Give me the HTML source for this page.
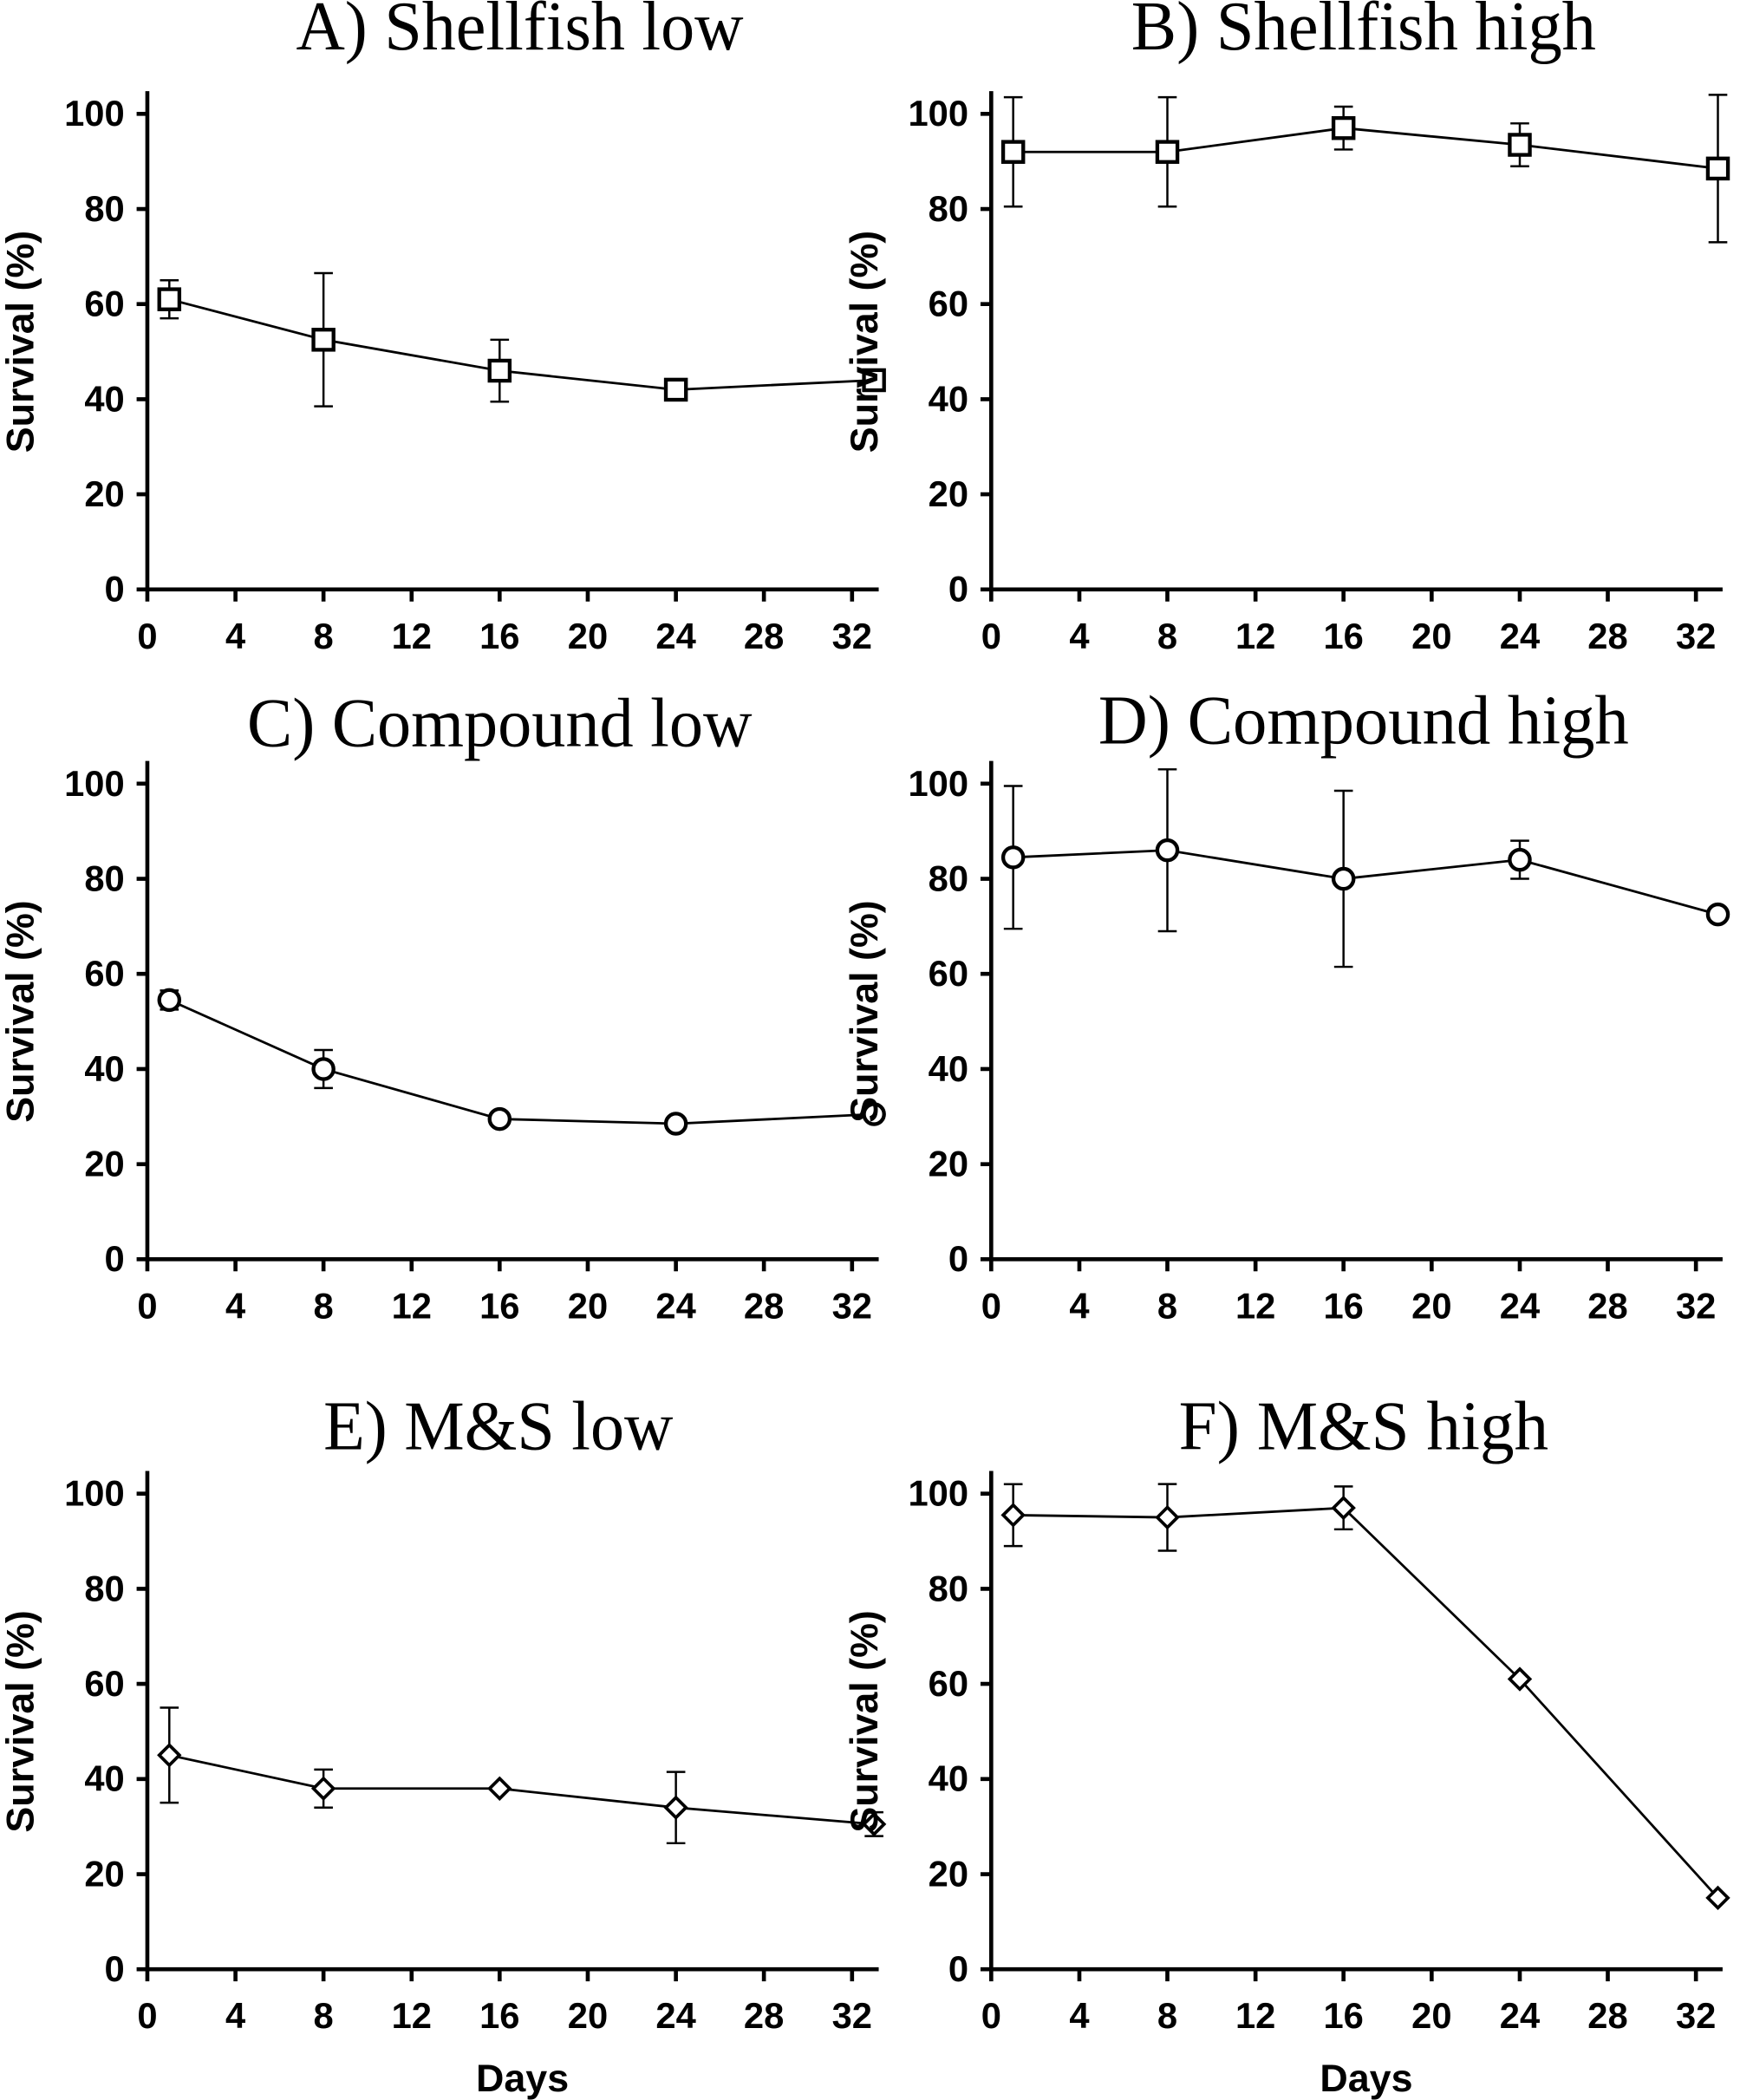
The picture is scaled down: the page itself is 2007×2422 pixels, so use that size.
<!DOCTYPE html>
<html><head><meta charset="utf-8"><style>
html,body{margin:0;padding:0;background:#fff}
svg{display:block}
.t{font-family:"Liberation Serif",serif;font-size:52px;fill:#000}
.k{font-family:"Liberation Sans Narrow","Liberation Sans",sans-serif;font-weight:bold;font-size:27px;fill:#000}
.yl{font-family:"Liberation Sans",sans-serif;font-weight:bold;font-size:29px;fill:#000}
.ax{stroke:#000;stroke-width:3;fill:none}
.ln{stroke:#000;stroke-width:1.8;fill:none}
.eb{stroke:#000;stroke-width:1.6;fill:none}
.mk{stroke:#000;stroke-width:2.8;fill:#fff}
</style></head><body>
<svg width="2007" height="2422" viewBox="0 0 1299 1567.6" xmlns="http://www.w3.org/2000/svg">
<defs>
<g id="axes">
<path class="ax" d="M0,0V-372M0,0H546"/>
<path class="ax" d="M0,0h-8M0,-71h-8M0,-142h-8M0,-213h-8M0,-284h-8M0,-355h-8"/>
<path class="ax" d="M0,0v9M65.8,0v9M131.5,0v9M197.3,0v9M263,0v9M328.8,0v9M394.6,0v9M460.3,0v9M526.1,0v9"/>
<g class="k" text-anchor="end">
<text x="-17" y="9">0</text><text x="-17" y="-62">20</text><text x="-17" y="-133">40</text><text x="-17" y="-204">60</text><text x="-17" y="-275">80</text><text x="-17" y="-346">100</text>
</g>
<g class="k" text-anchor="middle">
<text x="0" y="44">0</text><text x="65.8" y="44">4</text><text x="131.5" y="44">8</text><text x="197.3" y="44">12</text><text x="263" y="44">16</text><text x="328.8" y="44">20</text><text x="394.6" y="44">24</text><text x="460.3" y="44">28</text><text x="526.1" y="44">32</text>
</g>
<text class="yl" transform="translate(-85,-185) rotate(-90)" text-anchor="middle">Survival (%)</text>
</g>
<rect id="sq" class="mk" x="-7.5" y="-7.5" width="15" height="15"/>
<circle id="ci" class="mk" r="7.5"/>
<path id="di" class="mk" d="M0,-7.5L7.5,0L0,7.5L-7.5,0Z" style="stroke-width:2.4"/>
</defs>

<text class="t" x="388" y="37" text-anchor="middle" textLength="334" lengthAdjust="spacingAndGlyphs">A) Shellfish low</text>
<text class="t" x="1018" y="37" text-anchor="middle" textLength="347" lengthAdjust="spacingAndGlyphs">B) Shellfish high</text>
<text class="t" x="373" y="557" text-anchor="middle" textLength="377" lengthAdjust="spacingAndGlyphs">C) Compound low</text>
<text class="t" x="1018" y="555" text-anchor="middle" textLength="396" lengthAdjust="spacingAndGlyphs">D) Compound high</text>
<text class="t" x="372" y="1082" text-anchor="middle" textLength="261" lengthAdjust="spacingAndGlyphs">E) M&amp;S low</text>
<text class="t" x="1018" y="1082" text-anchor="middle" textLength="276" lengthAdjust="spacingAndGlyphs">F) M&amp;S high</text>

<!-- A -->
<g transform="translate(110,440)">
<use href="#axes"/>
<path class="eb" d="M16.4,-230.8V-202.4M9.4,-230.8h14M9.4,-202.4h14M131.5,-236.1V-136.7M124.5,-236.1h14M124.5,-136.7h14M263,-186.4V-140.2M256,-186.4h14M256,-140.2h14"/>
<path class="ln" d="M16.4,-216.6L131.5,-186.4L263,-163.3L394.6,-149.1L542.5,-156.2"/>
<use href="#sq" x="16.4" y="-216.6"/><use href="#sq" x="131.5" y="-186.4"/><use href="#sq" x="263" y="-163.3"/><use href="#sq" x="394.6" y="-149.1"/><use href="#sq" x="542.5" y="-156.2"/>
</g>
<!-- B -->
<g transform="translate(740,440)">
<use href="#axes"/>
<path class="eb" d="M16.4,-367.4V-285.8M9.4,-367.4h14M9.4,-285.8h14M131.5,-367.4V-285.8M124.5,-367.4h14M124.5,-285.8h14M263,-360.4V-328.4M256,-360.4h14M256,-328.4h14M394.6,-347.9V-315.9M387.6,-347.9h14M387.6,-315.9h14M542.5,-369.2V-259.2M535.5,-369.2h14M535.5,-259.2h14"/>
<path class="ln" d="M16.4,-326.6L131.5,-326.6L263,-344.4L394.6,-331.9L542.5,-314.2"/>
<use href="#sq" x="16.4" y="-326.6"/><use href="#sq" x="131.5" y="-326.6"/><use href="#sq" x="263" y="-344.4"/><use href="#sq" x="394.6" y="-331.9"/><use href="#sq" x="542.5" y="-314.2"/>
</g>
<!-- C -->
<g transform="translate(110,940)">
<use href="#axes"/>
<path class="eb" d="M16.4,-200.6V-186.4M9.4,-200.6h14M9.4,-186.4h14M131.5,-156.2V-127.8M124.5,-156.2h14M124.5,-127.8h14"/>
<path class="ln" d="M16.4,-193.5L131.5,-142L263,-104.7L394.6,-101.2L542.5,-108.3"/>
<use href="#ci" x="16.4" y="-193.5"/><use href="#ci" x="131.5" y="-142"/><use href="#ci" x="263" y="-104.7"/><use href="#ci" x="394.6" y="-101.2"/><use href="#ci" x="542.5" y="-108.3"/>
</g>
<!-- D -->
<g transform="translate(740,940)">
<use href="#axes"/>
<path class="eb" d="M16.4,-353.3V-246.7M9.4,-353.3h14M9.4,-246.7h14M131.5,-365.7V-244.9M124.5,-365.7h14M124.5,-244.9h14M263,-349.7V-218.3M256,-349.7h14M256,-218.3h14M394.6,-312.4V-284M387.6,-312.4h14M387.6,-284h14"/>
<path class="ln" d="M16.4,-300L131.5,-305.3L263,-284L394.6,-298.2L542.5,-257.4"/>
<use href="#ci" x="16.4" y="-300"/><use href="#ci" x="131.5" y="-305.3"/><use href="#ci" x="263" y="-284"/><use href="#ci" x="394.6" y="-298.2"/><use href="#ci" x="542.5" y="-257.4"/>
</g>
<!-- E -->
<g transform="translate(110,1470)">
<use href="#axes"/>
<path class="eb" d="M16.4,-195.3V-124.3M9.4,-195.3h14M9.4,-124.3h14M131.5,-149.1V-120.7M124.5,-149.1h14M124.5,-120.7h14M394.6,-147.3V-94.1M387.6,-147.3h14M387.6,-94.1h14M542.5,-117.2V-99.4M535.5,-117.2h14M535.5,-99.4h14"/>
<path class="ln" d="M16.4,-159.8L131.5,-134.9L263,-134.9L394.6,-120.7L542.5,-108.3"/>
<use href="#di" x="16.4" y="-159.8"/><use href="#di" x="131.5" y="-134.9"/><use href="#di" x="263" y="-134.9"/><use href="#di" x="394.6" y="-120.7"/><use href="#di" x="542.5" y="-108.3"/>
<text class="yl" x="280" y="91" text-anchor="middle">Days</text>
</g>
<!-- F -->
<g transform="translate(740,1470)">
<use href="#axes"/>
<path class="eb" d="M16.4,-362.1V-315.9M9.4,-362.1h14M9.4,-315.9h14M131.5,-362.2V-312.4M124.5,-362.2h14M124.5,-312.4h14M263,-360.4V-328.4M256,-360.4h14M256,-328.4h14"/>
<path class="ln" d="M16.4,-339L131.5,-337.3L263,-344.4L394.6,-216.6L542.5,-53.3"/>
<use href="#di" x="16.4" y="-339"/><use href="#di" x="131.5" y="-337.3"/><use href="#di" x="263" y="-344.4"/><use href="#di" x="394.6" y="-216.6"/><use href="#di" x="542.5" y="-53.3"/>
<text class="yl" x="280" y="91" text-anchor="middle">Days</text>
</g>
</svg>
</body></html>
